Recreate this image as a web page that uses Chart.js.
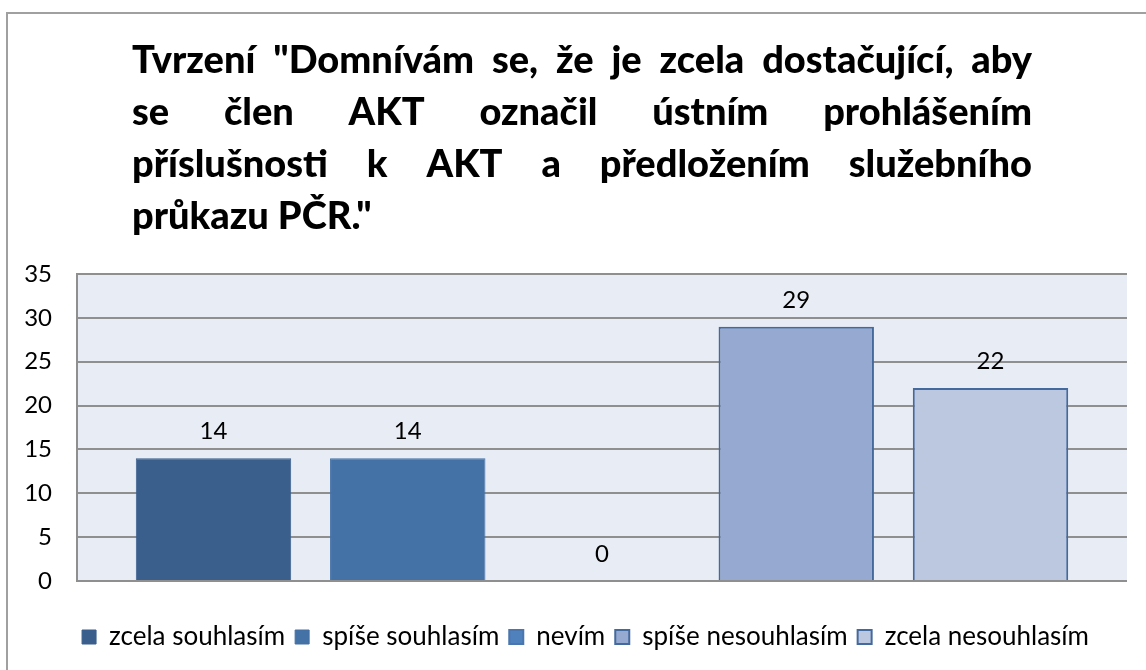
<!DOCTYPE html>
<html>
<head>
<meta charset="utf-8">
<script src="https://cdn.jsdelivr.net/npm/chart.js@4.4.1/dist/chart.umd.min.js"></script>
<style>
  html, body { margin: 0; padding: 0; background: #fff; }
  #wrap { width: 1146px; height: 670px; }
</style>
</head>
<body>
<div id="wrap"><canvas id="chart" width="1146" height="670"></canvas></div>
<script>
// data
const titleLines = [
  'Tvrzení "Domnívám se, že je zcela dostačující, aby',
  'se člen AKT označil ústním prohlášením',
  'příslušnosti k AKT a předložením služebního',
  'průkazu PČR."'
];
const answers = ['zcela souhlasím', 'spíše souhlasím', 'nevím', 'spíše nesouhlasím', 'zcela nesouhlasím'];
const counts = [14, 14, 0, 29, 22];
const yMin = 0, yMax = 35, yStep = 5;

const fills = ['#3A5F8D', '#4471A6', '#4F81BD', '#95A9D1', '#BBC8E0'];
const borders = ['#3A5F8D', '#4471A6', '#4A75AE', '#44699D', '#44699D'];
const borderWidths = [1, 1, 2, 2, 2];

const FONT = 'Lato, "Open Sans", sans-serif';
Chart.defaults.font.family = FONT;
Chart.defaults.color = '#000';

// frame + plot background
const backgroundPlugin = {
  id: 'background',
  afterLayout(chart) {
    // legend in the original sits a bit right of the centre
    chart.legend.left += 22;
    chart.legend.right += 22;
  },
  beforeDraw(chart) {
    const ctx = chart.ctx;
    const a = chart.chartArea;
    ctx.save();
    ctx.fillStyle = '#E8ECF4';
    ctx.fillRect(a.left, a.top, a.right - a.left, a.bottom - a.top);
    ctx.strokeStyle = '#A0A0A0';
    ctx.lineWidth = 2;
    ctx.beginPath();
    ctx.moveTo(7, chart.height);
    ctx.lineTo(7, 13);
    ctx.lineTo(chart.width, 13);
    ctx.stroke();
    ctx.restore();
  }
};

// justified bold title (like the Word/Excel original)
const titlePlugin = {
  id: 'justifiedTitle',
  afterDraw(chart) {
    const ctx = chart.ctx;
    const left = 132, right = 1032;
    const baselines = [73, 125, 177, 229];
    ctx.save();
    ctx.font = '900 36px ' + FONT;
    let w = ctx.measureText(titleLines[0]).width;
    let size = Math.min(38, 36 * 892 / w);
    ctx.font = '900 ' + size.toFixed(2) + 'px ' + FONT;
    ctx.fillStyle = '#000';
    ctx.textBaseline = 'alphabetic';
    ctx.textAlign = 'left';
    titleLines.forEach((line, i) => {
      const words = line.split(' ');
      const y = baselines[i];
      if (i === titleLines.length - 1) {
        ctx.fillText(line, left, y);
        return;
      }
      const wordsW = words.reduce((s, wd) => s + ctx.measureText(wd).width, 0);
      const gap = (right - left - wordsW) / (words.length - 1);
      let x = left;
      words.forEach(wd => {
        ctx.fillText(wd, x, y);
        x += ctx.measureText(wd).width + gap;
      });
    });
    ctx.restore();
  }
};

// value labels above bars
const valueLabels = {
  id: 'valueLabels',
  afterDatasetsDraw(chart) {
    const ctx = chart.ctx;
    ctx.save();
    ctx.font = '24px ' + FONT;
    ctx.fillStyle = '#000';
    ctx.textAlign = 'center';
    ctx.textBaseline = 'alphabetic';
    chart.data.datasets.forEach((ds, i) => {
      const meta = chart.getDatasetMeta(i);
      meta.data.forEach((bar, j) => {
        ctx.fillText(String(ds.data[j]), bar.x, bar.y - 19);
      });
    });
    ctx.restore();
  }
};

new Chart(document.getElementById('chart'), {
  type: 'bar',
  data: {
    labels: [''],
    datasets: answers.map((name, i) => ({
      label: name,
      data: [counts[i]],
      backgroundColor: fills[i],
      borderColor: borders[i],
      borderWidth: borderWidths[i],
      categoryPercentage: 0.925,
      barPercentage: 0.8
    }))
  },
  options: {
    responsive: false,
    animation: false,
    layout: { padding: { top: 274, left: 0, right: 19, bottom: 10 } },
    plugins: {
      title: { display: false },
      tooltip: { enabled: false },
      legend: {
        position: 'bottom',
        labels: {
          boxWidth: 14,
          boxHeight: 14,
          padding: 10,
          color: '#000',
          font: { size: 26, family: FONT }
        }
      }
    },
    scales: {
      x: {
        ticks: { display: false },
        grid: { display: false },
        border: { display: false },
        afterFit(scale) { scale.height = 33; }
      },
      y: {
        min: yMin,
        max: yMax,
        ticks: { stepSize: yStep, padding: 25, color: '#000', font: { size: 24, family: FONT } },
        grid: { color: '#8F8F8F', lineWidth: 2, drawTicks: false },
        border: { display: true, color: '#8F8F8F', width: 2 },
        afterFit(scale) { scale.width = 77; }
      }
    }
  },
  plugins: [backgroundPlugin, titlePlugin, valueLabels]
});
</script>
</body>
</html>
